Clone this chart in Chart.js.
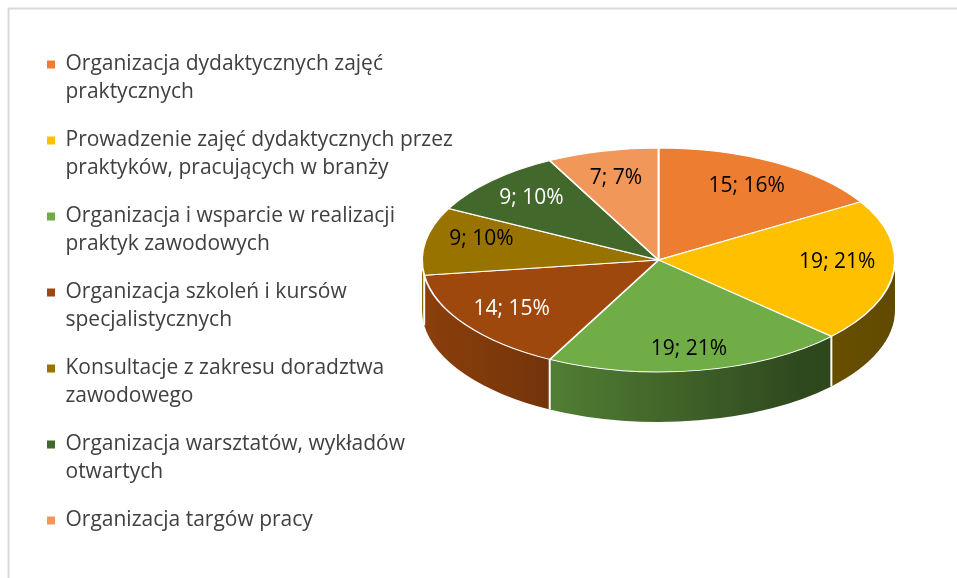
<!DOCTYPE html>
<html><head><meta charset="utf-8">
<script src="https://cdn.jsdelivr.net/npm/chart.js@4.4.1/dist/chart.umd.min.js"></script>
<style>html,body{margin:0;padding:0;background:#fff;overflow:hidden}canvas{display:block}</style>
</head><body>
<canvas id="c" width="957" height="578"></canvas>
<script>
const categories = [
  ['Organizacja dydaktycznych zajęć', 'praktycznych'],
  ['Prowadzenie zajęć dydaktycznych przez', 'praktyków, pracujących w branży'],
  ['Organizacja i wsparcie w realizacji', 'praktyk zawodowych'],
  ['Organizacja szkoleń i kursów', 'specjalistycznych'],
  ['Konsultacje z zakresu doradztwa', 'zawodowego'],
  ['Organizacja warsztatów, wykładów', 'otwartych'],
  ['Organizacja targów pracy']
];
const counts = [15, 19, 19, 14, 9, 9, 7];
const percentLabels = ['16%', '21%', '21%', '15%', '10%', '10%', '7%'];
const colors = ['#ED7D31', '#FFC000', '#70AD47', '#9E480E', '#997300', '#43682B', '#F1975A'];
const labelColors = ['#000000', '#000000', '#000000', '#FFFFFF', '#000000', '#FFFFFF', '#000000'];

const FONT = '"Open Sans", Lato, sans-serif';
const FONT_SIZE = 21;
const geo = {cx: 658.5, cy: 260, rx: 236.5, ry: 112, depth: 50, labelCy: 252};

function shade(hex, f) {
  const n = parseInt(hex.slice(1), 16);
  const r = Math.round(((n >> 16) & 255) * f), g = Math.round(((n >> 8) & 255) * f), b = Math.round((n & 255) * f);
  return `rgb(${r},${g},${b})`;
}

const pie3d = {
  id: 'pie3d',
  beforeDraw(chart) {
    const ctx = chart.ctx;
    ctx.save();
    ctx.strokeStyle = '#d9d9d9';
    ctx.lineWidth = 2;
    ctx.beginPath();
    ctx.moveTo(8.5, 578);
    ctx.lineTo(8.5, 8.5);
    ctx.lineTo(957, 8.5);
    ctx.stroke();
    ctx.restore();
  },
  beforeDatasetsDraw(chart) {
    const ctx = chart.ctx;
    const arcs = chart.getDatasetMeta(0).data;
    const {cx, cy, rx, ry, depth} = geo;
    ctx.save();
    arcs.forEach((arc, i) => {
      const a = Math.max(arc.startAngle, 0), b = Math.min(arc.endAngle, Math.PI);
      if (b <= a) return;
      const g = ctx.createLinearGradient(cx - rx, 0, cx + rx, 0);
      g.addColorStop(0, shade(colors[i], 0.88));
      g.addColorStop(0.25, shade(colors[i], 0.74));
      g.addColorStop(0.8, shade(colors[i], 0.42));
      g.addColorStop(1, shade(colors[i], 0.38));
      ctx.beginPath();
      ctx.ellipse(cx, cy, rx, ry, 0, a, b, false);
      ctx.ellipse(cx, cy + depth, rx, ry, 0, b, a, true);
      ctx.closePath();
      ctx.fillStyle = g;
      ctx.fill();
    });
    ctx.strokeStyle = '#ffffff';
    ctx.lineWidth = 2;
    arcs.forEach(arc => {
      const s = arc.startAngle;
      if (s > 0 && s < Math.PI) {
        const x = cx + rx * Math.cos(s), y = cy + ry * Math.sin(s);
        ctx.beginPath();
        ctx.moveTo(x, y);
        ctx.lineTo(x, y + depth);
        ctx.stroke();
      }
    });
    ctx.restore();
    const a0 = arcs[0];
    const k = a0.outerRadius;
    ctx.save();
    ctx.translate(cx, cy);
    ctx.scale(rx / k, ry / k);
    ctx.translate(-a0.x, -a0.y);
  },
  afterDatasetsDraw(chart) {
    const ctx = chart.ctx;
    ctx.restore();
    const arcs = chart.getDatasetMeta(0).data;
    const {cx, rx, ry, labelCy} = geo;
    ctx.save();
    ctx.font = FONT_SIZE + 'px ' + FONT;
    ctx.textAlign = 'center';
    ctx.textBaseline = 'middle';
    arcs.forEach((arc, i) => {
      const m = (arc.startAngle + arc.endAngle) / 2;
      const c = Math.cos(m), s = Math.sin(m);
      const x = cx + 0.76 * rx * c;
      const y = labelCy + (s < 0 ? 0.68 : 0.88) * ry * s;
      ctx.fillStyle = labelColors[i];
      ctx.fillText(counts[i] + '; ' + percentLabels[i], x, y);
    });
    ctx.restore();
  }
};

new Chart(document.getElementById('c'), {
  type: 'pie',
  data: {
    labels: categories,
    datasets: [{data: counts, backgroundColor: colors, borderColor: '#ffffff', borderWidth: 2}]
  },
  options: {
    responsive: false,
    animation: false,
    devicePixelRatio: 1,
    events: [],
    layout: {padding: {left: 27, top: 34, right: 10, bottom: 10}},
    plugins: {
      tooltip: {enabled: false},
      legend: {
        position: 'left',
        align: 'start',
        labels: {
          boxWidth: 8,
          boxHeight: 8,
          padding: 20,
          color: '#404040',
          font: {family: FONT, size: FONT_SIZE, lineHeight: 28 / FONT_SIZE},
          generateLabels: () => categories.map((t, i) => ({
            text: t, fillStyle: colors[i], strokeStyle: colors[i], lineWidth: 0,
            hidden: false, index: i, fontColor: '#404040'
          }))
        }
      }
    }
  },
  plugins: [pie3d]
});
</script>
</body></html>
